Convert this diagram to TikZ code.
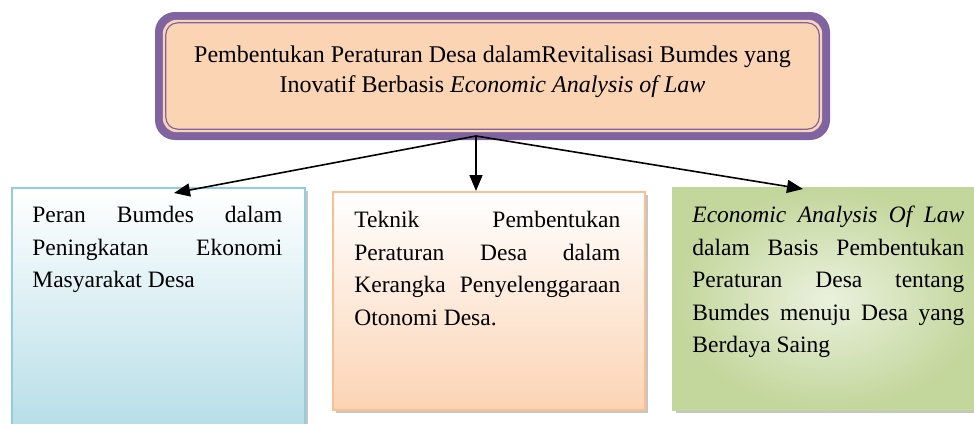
\documentclass[tikz,border=0pt]{standalone}
\usepackage{fontspec}
\setmainfont{Liberation Serif}
\usetikzlibrary{positioning}
\usetikzlibrary{arrows.meta}
\usetikzlibrary{shadows}

\definecolor{bandpurple}{HTML}{8064A2}
\definecolor{peach}{HTML}{FBD4B4}
\definecolor{peachline}{HTML}{FAC090}
\definecolor{lightblue}{HTML}{B7DEE8}
\definecolor{blueline}{HTML}{92CDDC}
\definecolor{olive}{HTML}{C3D69B}
\definecolor{olivelight}{HTML}{EAF1DD}

\newcommand{\jline}[2]{\makebox[#1][s]{#2}}

\tikzset{
  mainbox/.style={rectangle, rounded corners=20pt, fill=bandpurple,
    minimum width=675pt, minimum height=128pt},
  subbox/.style={rectangle, line width=1.6pt,
    drop shadow={shadow xshift=3pt, shadow yshift=-3pt, fill=black!45}},
  boxtext/.style={inner sep=0pt, align=flush left,
    font=\fontsize{23.5}{32.5}\selectfont},
  link/.style={line width=1.6pt, -{Triangle[length=16pt,width=13pt]}}
}

\begin{document}
\begin{tikzpicture}[x=1pt, y=-1pt]
    \useasboundingbox (0,0) rectangle (974,423);

    % Main box
    \node[mainbox] (top) at (492.5,76) {};
    \fill[peach, rounded corners=14pt] ([shift={(8pt,-8pt)}]top.north west)
      rectangle ([shift={(-8pt,8pt)}]top.south east);
    \draw[bandpurple, line width=1.2pt, rounded corners=12pt]
      ([shift={(11pt,-11pt)}]top.north west)
      rectangle ([shift={(-11pt,11pt)}]top.south east);
    \node[inner sep=0pt, align=center, font=\fontsize{24}{30}\selectfont]
      (title) at ([yshift=4pt]top.center)
      {Pembentukan Peraturan Desa dalamRevitalisasi Bumdes yang\\
       Inovatif Berbasis \textit{Economic Analysis of Law}};

    % Sub boxes
    \node[subbox, draw=blueline, top color=white, bottom color=lightblue,
          minimum width=293pt, minimum height=240pt] (lbox) at (158.5,308) {};
    \node[subbox, draw=peachline, top color=white, bottom color=peach,
          minimum width=312pt, minimum height=218pt] (mbox) at (489,301) {};
    \node[subbox, draw=olive, shading=radial, inner color=olivelight, outer color=olive,
          minimum width=311pt, minimum height=222pt] (rbox) at (828.5,299) {};

    % Box texts
    \node[boxtext, text width=250pt, below right=19pt and 21pt of lbox.north west] (ltext)
      {\jline{250pt}{Peran Bumdes dalam}\\
       \jline{250pt}{Peningkatan Ekonomi}\\
       Masyarakat Desa};
    \node[boxtext, text width=266pt, below right=20pt and 22pt of mbox.north west] (mtext)
      {\jline{266pt}{Teknik Pembentukan}\\
       \jline{266pt}{Peraturan Desa dalam}\\
       \jline{266pt}{Kerangka Penyelenggaraan}\\
       Otonomi Desa.};
    \node[boxtext, text width=272pt, below right=19pt and 20pt of rbox.north west] (rtext)
      {\jline{272pt}{\itshape Economic Analysis Of Law}\\
       \jline{272pt}{dalam Basis Pembentukan}\\
       \jline{272pt}{Peraturan Desa tentang}\\
       \jline{272pt}{Bumdes menuju Desa yang}\\
       Berdaya Saing};

    % Arrows
    \coordinate (src) at (476,136);
    \coordinate (ltip) at (174,193);
    \coordinate (mtip) at (476,191);
    \coordinate (rtip) at (803,189);
    \draw[link] (src) -- (ltip);
    \draw[link] (src) -- (mtip);
    \draw[link] (src) -- (rtip);

\end{tikzpicture}
\end{document}
